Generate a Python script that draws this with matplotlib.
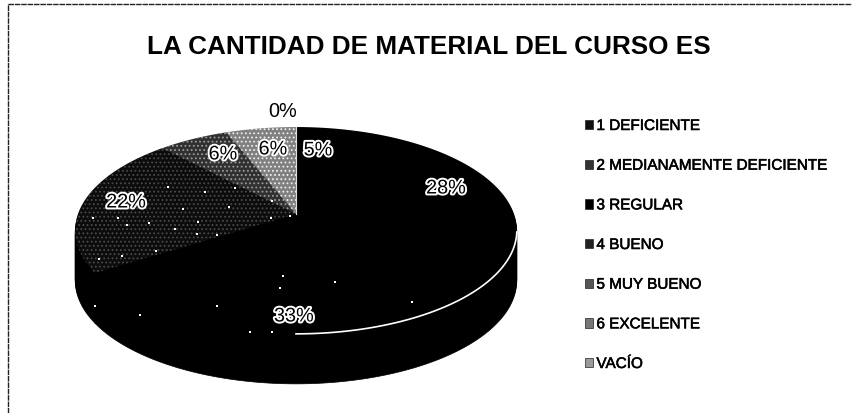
#!/usr/bin/env python
# -*- coding: utf8 -*-
import numpy as np
import matplotlib
matplotlib.use('Agg')
import matplotlib.pyplot as plt
import matplotlib.patheffects as pe
from matplotlib.patches import PathPatch, Rectangle
from matplotlib.path import Path

plt.rcParams['font.family'] = ['Liberation Sans', 'DejaVu Sans']
plt.rcParams['hatch.linewidth'] = 0.8

title = 'LA CANTIDAD DE MATERIAL DEL CURSO ES'
labels = ['1 DEFICIENTE', '2 MEDIANAMENTE DEFICIENTE', '3 REGULAR', '4 BUENO',
          '5 MUY BUENO', '6 EXCELENTE', 'VACÍO']
values = [5, 28, 33, 22, 6, 6, 0]
pct_text = ['5%', '28%', '33%', '22%', '6%', '6%', '0%']

colors = ['#000000', '#000000', '#000000', '#0c0c0c', '#303030', '#808080', '#bdbdbd']
hatch_colors = ['#000000', '#000000', '#000000', '#4a4a4a', '#9a9a9a', '#eeeeee', '#bdbdbd']
hatches = [None, None, None, '....', '....', '....', None]
pct_xy = [(318, 151), (446, 189), (294, 317), (126, 203), (223, 155), (273, 150), (283, 112)]

# white scan specks on the dark wedges
speck_x = [283, 335, 280, 412, 217, 140, 250, 272, 95,
           168, 205, 235, 272, 290, 271, 198, 175, 217, 197, 149, 127, 118, 93, 156, 99, 122, 183, 229]
speck_y = [277, 283, 289, 303, 307, 316, 333, 333, 307,
           188, 193, 189, 202, 217, 219, 223, 230, 236, 235, 224, 226, 219, 219, 252, 260, 257, 210, 208]

# pie centre in pixels, and the tilt of the 3d view
cx, cy = 296, 215
k, a, b = 0.159, 100.8, 218
depth = 50

def project(xy, dy=0):
  # unit circle -> perspective ellipse, in pixels
  w = 1 + k * xy[:, 1]
  return np.column_stack([cx + b * xy[:, 0] / w, cy - a * xy[:, 1] / w + dy])

fig = plt.figure(figsize=(8.52, 4.14), dpi=100)
ax = fig.add_axes([0, 0, 1, 1])
ax.set_xlim(0, 852)
ax.set_ylim(414, 0)
ax.axis('off')

# only the left and top of the frame survive in the scan
ax.plot([7.5, 7.5, 852], [414, 4.5, 4.5], color='#222222', lw=1.0, ls=(0, (4, 0.6)))

# unit pie on a scratch axes, its wedges get reprojected below
scratch = fig.add_axes([0, 0, 0.01, 0.01])
wedges, _ = scratch.pie(values, startangle=90, counterclock=False, radius=1)
polys = []
for w in wedges:
  path = w.get_path().deepcopy()
  path = w.get_patch_transform().transform_path(path)
  # flatten at a big scale so the arc comes out smooth
  path.vertices = path.vertices * 2000
  poly = path.to_polygons(closed_only=True)
  polys.append(poly[0] / 2000 if len(poly) else np.zeros((3, 2)))
scratch.remove()

# side wall
for dy in range(depth, 0, -2):
  for v in polys:
    ax.add_patch(PathPatch(Path(project(v, dy)), fc='black', ec='black', lw=0.5))

# top
for v, c, hc, h in zip(polys, colors, hatch_colors, hatches):
  ax.add_patch(PathPatch(Path(project(v)), fc=c, ec=hc, hatch=h, lw=0))

ax.scatter(speck_x, speck_y, s=4, marker='s', color='white', linewidths=0)

# white seam between the 28% wedge and the rim
t = np.radians(np.linspace(100, 180, 80))
rim = project(np.column_stack([np.sin(t), np.cos(t)]))
ax.plot(rim[:, 0], rim[:, 1], color='white', lw=1.2)

# seam on the top edge of stippled part
seam = project(np.array([[0, 0], [0, 1.0]]))
ax.plot(seam[:, 0], seam[:, 1], color='#dddddd', lw=0.8)

ax.text(429, 46.5, title, ha='center', va='center', fontsize=18.8, fontweight='bold', color='black')

for s, xy, val in zip(pct_text, pct_xy, values):
  if val == 0:
    ax.text(xy[0], xy[1], s, ha='center', va='center', fontsize=14.3, color='black')
  else:
    ax.text(xy[0], xy[1], s, ha='center', va='center', fontsize=14.3, color='black',
            path_effects=[pe.withStroke(linewidth=2.8, foreground='white')])

handles = [Rectangle((0, 0), 1, 1, fc=c, ec='#222222', lw=0.5)
           for c in ['#111111', '#333333', '#000000', '#222222', '#555555', '#777777', '#999999']]
leg = ax.legend(handles, labels, loc='upper left', bbox_to_anchor=(585 / 852, 1 - 120 / 414),
                frameon=False, fontsize=11, handlelength=0.55, handleheight=0.55,
                handletextpad=0.2, labelspacing=1.68, borderpad=0, borderaxespad=0)
for txt in leg.get_texts():
  # scan makes the thin labels look heavier
  txt.set_path_effects([pe.withStroke(linewidth=0.4, foreground='black')])

fig.savefig('out.png', dpi=100)
